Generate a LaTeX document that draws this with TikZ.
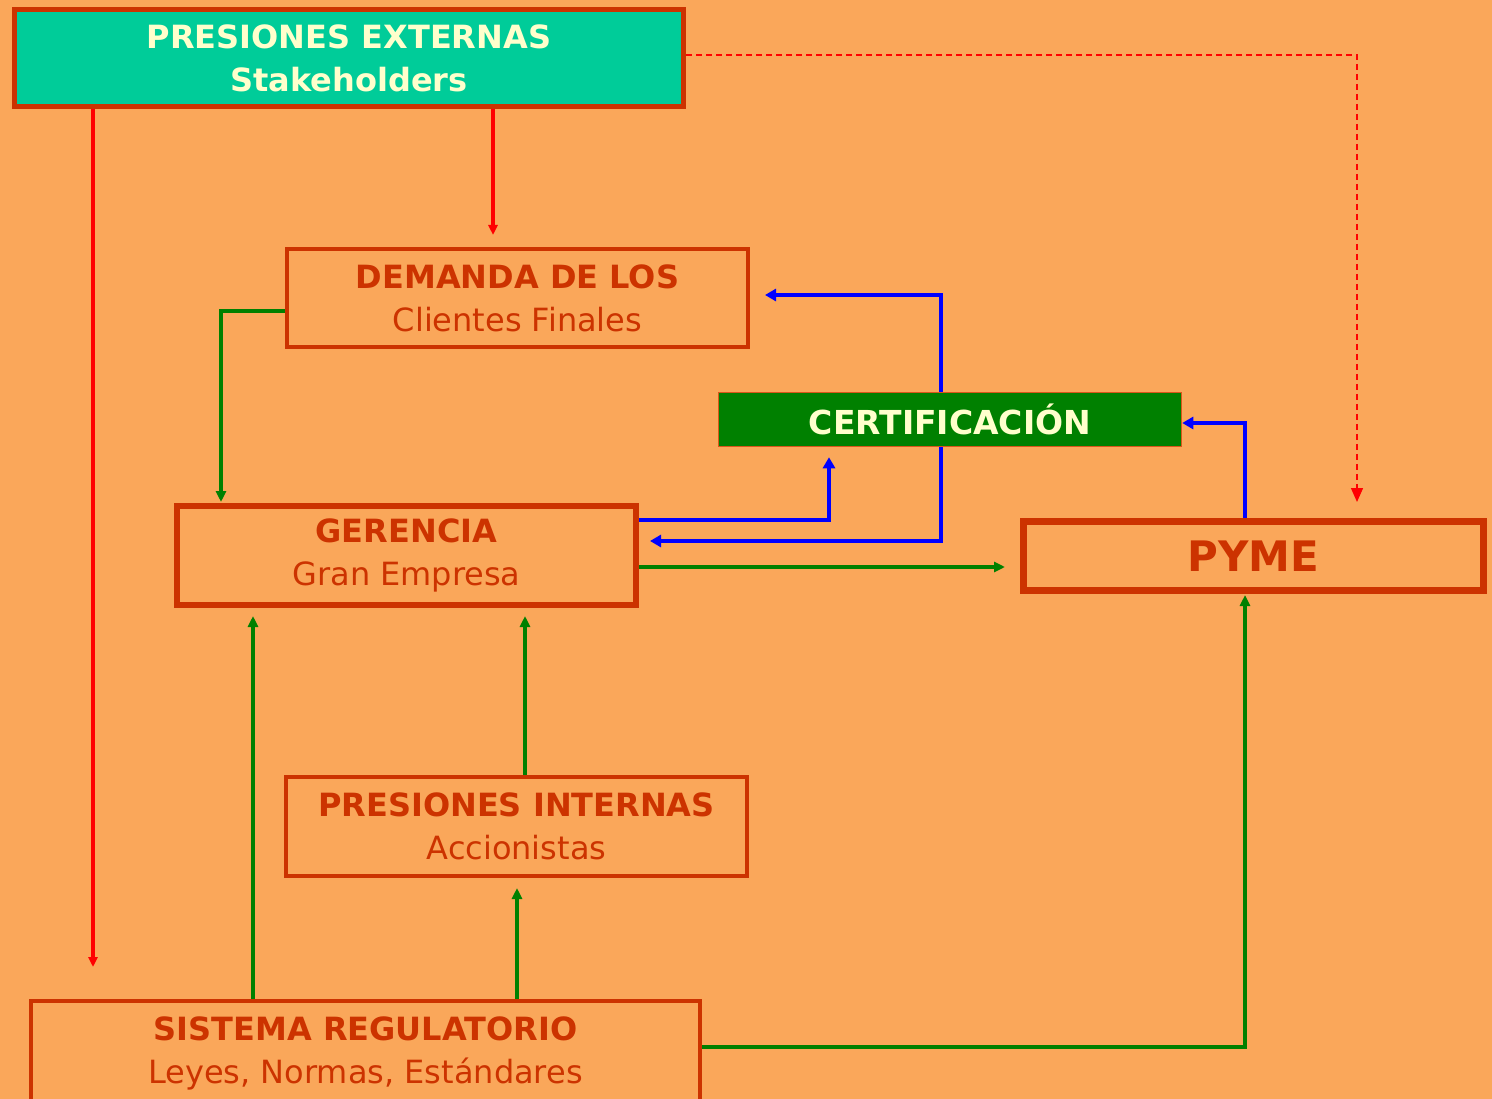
\documentclass[tikz,border=0pt]{standalone}
\usepackage{fontspec}
\setmainfont{DejaVu Sans}
\usetikzlibrary{arrows.meta,calc}
\definecolor{bg}{HTML}{FAA75A}
\definecolor{bord}{HTML}{CC3300}
\definecolor{tealc}{HTML}{00CC99}
\definecolor{cream}{HTML}{FFFFCC}
\definecolor{grn}{HTML}{008000}
\definecolor{blu}{HTML}{0000FF}
\definecolor{rd}{HTML}{FF0000}
\tikzset{
  box/.style={draw=bord, rectangle, inner sep=0pt, align=center, text=bord,
    font=\fontsize{32}{43}\selectfont},
  redarr/.style={draw=rd, line width=4.5pt, -{Triangle[length=10pt,width=9pt]}},
  reddash/.style={draw=rd, line width=1.5pt, dash pattern=on 6pt off 4pt, -{Triangle[length=14pt,width=12pt]}},
  grnarr/.style={draw=grn, line width=4pt, -{Triangle[length=11pt,width=10pt]}},
  bluarr/.style={draw=blu, line width=4.5pt, -{Triangle[length=11pt,width=12pt]}},
}
\begin{document}
\begin{tikzpicture}[x=1pt,y=-1pt]
\fill[bg] (0,0) rectangle (1492,1099);
\useasboundingbox (0,0) rectangle (1492,1099);

% x helper coordinates
\coordinate (x93) at (93,0);
\coordinate (x493) at (493,0);
\coordinate (x1357) at (1357,0);
\coordinate (x221) at (221,0);
\coordinate (x941) at (941,0);
\coordinate (x1245) at (1245,0);
\coordinate (x829) at (829,0);
\coordinate (x253) at (253,0);
\coordinate (x525) at (525,0);
\coordinate (x517) at (517,0);

% nodes
\node[box, line width=5pt, fill=tealc, text=cream, minimum width=669pt, minimum height=97pt] (ext) at (349,58)
  {\bfseries PRESIONES EXTERNAS\\\bfseries Stakeholders};
\node[box, line width=4pt, minimum width=461pt, minimum height=98pt] (dem) at (517.5,298)
  {\bfseries DEMANDA DE LOS\\Clientes Finales};
\node[box, draw=bord!70!bg, line width=1.5pt, fill=grn, text=cream, minimum width=463pt, minimum height=54pt,
  font=\fontsize{33}{40}\selectfont\bfseries] (cert) at (950,419.5) {CERTIFICACIÓN};
\node[box, line width=6pt, minimum width=459pt, minimum height=99pt] (ger) at (406.5,555.5)
  {\bfseries GERENCIA\\Gran Empresa};
\node[box, line width=7pt, minimum width=460pt, minimum height=69pt, font=\fontsize{42}{50}\selectfont\bfseries] (pyme) at (1253.5,556) {PYME};
\node[box, line width=4pt, minimum width=461pt, minimum height=99pt] (pin) at (516.5,826.5)
  {\bfseries PRESIONES INTERNAS\\Accionistas};
\node[box, line width=4pt, minimum width=669pt, minimum height=104pt] (sis) at (365.5,1053)
  {\bfseries SISTEMA REGULATORIO\\Leyes, Normas, Estándares};

% helper coordinates on box sides
\coordinate (e1) at ([yshift=3pt]ext.east);
\coordinate (d1) at ([yshift=-13pt]dem.west);
\coordinate (d2) at ([yshift=3pt]dem.east);
\coordinate (c1) at ([yshift=-3.5pt]cert.east);
\coordinate (g1) at ([yshift=35.5pt]ger.east);
\coordinate (g2) at ([yshift=14.5pt]ger.east);
\coordinate (g3) at ([yshift=-11.5pt]ger.east);
\coordinate (s1) at ([yshift=6pt]sis.east);
\coordinate (r1end) at (93,967);

% red connectors
\draw[redarr] (ext.south -| x93) -- (r1end);
\draw[redarr, shorten >=12pt] (ext.south -| x493) -- (dem.north -| x493);
\draw[reddash, shorten >=16pt] (e1) -| (pyme.north -| x1357);

% green
\draw[grnarr, shorten >=1pt] (d1) -| (ger.north -| x221);
\draw[grnarr, shorten >=15pt] (g3) -- (g3 -| pyme.west);
\draw[grnarr, shorten >=8pt] (sis.north -| x253) -- (ger.south -| x253);
\draw[grnarr, shorten >=8pt] (pin.north -| x525) -- (ger.south -| x525);
\draw[grnarr, shorten >=10pt] (sis.north -| x517) -- (pin.south -| x517);
\draw[grnarr, shorten >=1pt] (s1) -| (pyme.south -| x1245);

% blue
\draw[bluarr, shorten >=15pt] (cert.north -| x941) |- (d2);
\draw[bluarr] (pyme.north -| x1245) |- (c1);
\draw[bluarr, shorten >=10pt] (g1) -| (cert.south -| x829);
\draw[bluarr, shorten >=11pt] (cert.south -| x941) |- (g2);
\end{tikzpicture}
\end{document}
